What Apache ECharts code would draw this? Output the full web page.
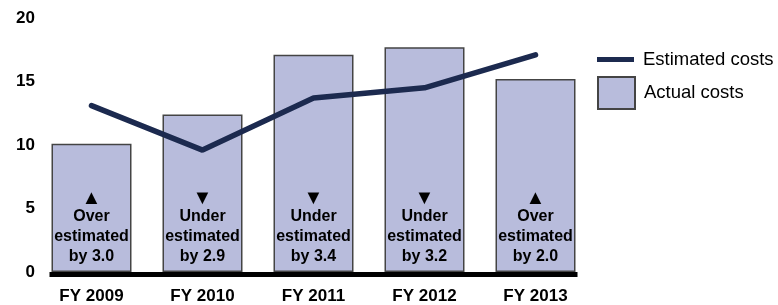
<!DOCTYPE html>
<html>
<head>
<meta charset="utf-8">
<script src="https://cdn.jsdelivr.net/npm/echarts@6/dist/echarts.min.js"></script>
<style>
  html, body { margin: 0; padding: 0; background: #fff; }
  #chart { width: 778px; height: 305px; }
</style>
</head>
<body>
<div id="chart"></div>
<script>
// data
const years = ['FY 2009', 'FY 2010', 'FY 2011', 'FY 2012', 'FY 2013'];
const actualCosts = [10.1, 12.4, 17.1, 17.7, 15.2];
const estimatedCosts = [13.1, 9.6, 13.7, 14.5, 17.1];
const gapWords = ['Over', 'Under', 'Under', 'Under', 'Over'];
const gapValues = ['3.0', '2.9', '3.4', '3.2', '2.0'];

const navy = '#1c2a4f';
const fill = '#b8bcdc';

let chart = echarts.init(document.getElementById('chart'));
let option = {
  animation: false,
  textStyle: { fontFamily: 'Liberation Sans, Arial, sans-serif' },
  grid: { left: 36, right: 187, top: 18, bottom: 33 },
  legend: [{
    data: ['Estimated costs'],
    left: 597, top: 50, padding: 0,
    itemWidth: 37, itemHeight: 5,
    icon: 'rect',
    textStyle: { fontSize: 18.5, color: '#000', padding: [0, 0, 0, 4] }
  }, {
    data: ['Actual costs'],
    left: 597, top: 76, padding: 0,
    itemWidth: 37, itemHeight: 32,
    icon: 'rect',
    textStyle: { fontSize: 18.5, color: '#000', padding: [0, 0, 0, 4] }
  }],
  xAxis: {
    type: 'category',
    data: years,
    axisLine: { show: false },
    axisTick: { show: false },
    axisLabel: { fontSize: 17, fontWeight: 'bold', color: '#000', margin: 16 }
  },
  yAxis: {
    type: 'value',
    min: 0, max: 20, interval: 5,
    splitLine: { show: false },
    axisLine: { show: false },
    axisTick: { show: false },
    axisLabel: { fontSize: 17, fontWeight: 'bold', color: '#000', margin: 1 }
  },
  series: [{
    name: 'Actual costs',
    type: 'bar',
    data: actualCosts,
    barWidth: 80,
    itemStyle: { color: fill, borderColor: '#444', borderWidth: 1.5 },
    label: {
      show: true,
      position: 'insideBottom',
      distance: 5,
      color: '#000',
      fontSize: 16,
      fontWeight: 'bold',
      lineHeight: 20,
      formatter: p => {
        let arrow = gapWords[p.dataIndex] === 'Over' ? '▲' : '▼';
        return '{a|' + arrow + '}\n' + gapWords[p.dataIndex] + '\nestimated\nby ' + gapValues[p.dataIndex];
      },
      rich: { a: { fontSize: 20, lineHeight: 18, color: '#000' } }
    },
    z: 1
  }, {
    name: 'Estimated costs',
    type: 'line',
    data: estimatedCosts,
    symbol: 'none',
    lineStyle: { color: navy, width: 5.5, cap: 'round' },
    itemStyle: { color: navy },
    z: 3
  }]
};
chart.setOption(option);

// thick baseline under the bars
let x0 = chart.convertToPixel({ xAxisIndex: 0 }, 0) - 42;
let x1 = chart.convertToPixel({ xAxisIndex: 0 }, years.length - 1) + 42;
let y0 = chart.convertToPixel({ yAxisIndex: 0 }, 0);
chart.setOption({
  graphic: [{
    type: 'rect',
    shape: { x: x0, y: y0, width: x1 - x0, height: 5 },
    style: { fill: '#000' },
    z: 10
  }]
});
</script>
</body>
</html>
